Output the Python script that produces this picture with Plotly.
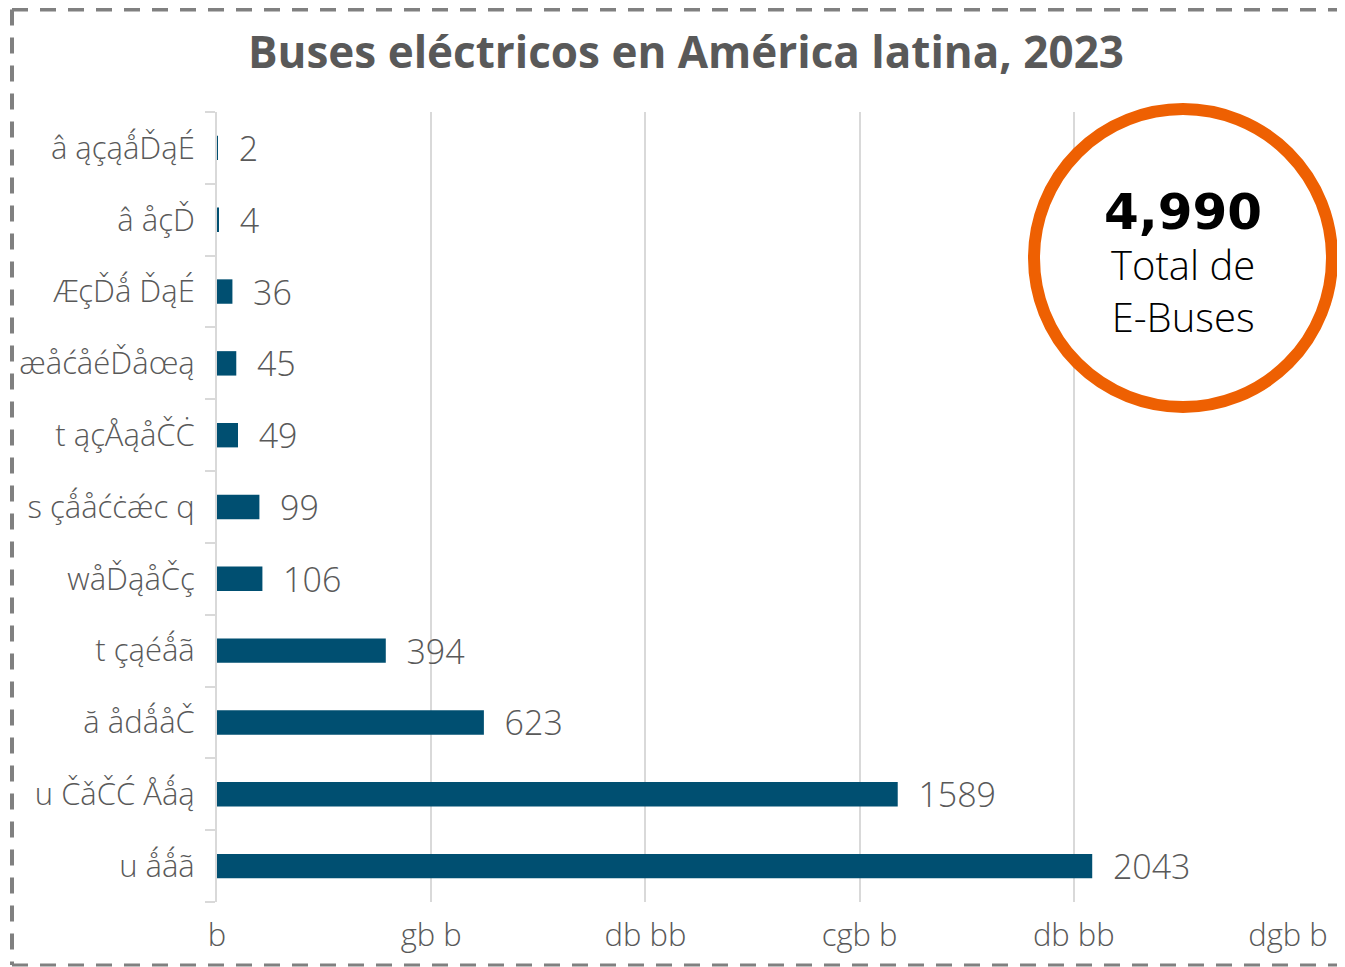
import plotly.graph_objects as go

categories = ["â ąçąǻĎąÉ", "â åçĎ", "ÆçĎǻ ĎąÉ", "æåćåéĎåœą", "t ąçÅąåČĊ",
              "s çǻåćċǽc q", "wåĎąåČç", "t çąéǻã", "ă ådǻåČ", "u ČǎČĆ Åǻą", "u ǻǻã"]
values = [2, 4, 36, 45, 49, 99, 106, 394, 623, 1589, 2043]
tick_vals = [0, 500, 1000, 1500, 2000, 2500]
tick_text = ["b", "gb b", "db bb", "cgb b", "db bb", "dgb b"]
title_text = "Buses eléctricos en América latina, 2023"
total_value = "4,990"
total_label = "Total de<br>E-Buses"

OFF = 8  # page body margin
W, H = 1345 - OFF, 967 - OFF
L, R, T, B = 217 - OFF, 1345 - OFF - 1288 + OFF, 112 - OFF, 967 - 902
pw, ph = W - L - R, H - T - B

def px(x):
    return (x - OFF - L) / pw

def py(y):
    return (H - B - (y - OFF)) / ph

FONT = "Open Sans"
GRAY = "#595959"

fig = go.Figure(go.Bar(
    y=categories, x=values, orientation="h",
    marker=dict(color="#004F71", line=dict(width=0)),
    width=0.34,
    text=["  " + str(v) for v in values],
    textposition="outside", cliponaxis=False, constraintext="none",
    textfont=dict(family=FONT, size=34, color=GRAY, weight=300),
    hoverinfo="skip",
))

fig.update_layout(
    width=W, height=H,
    margin=dict(l=L, r=R, t=T, b=B, autoexpand=False),
    paper_bgcolor="white", plot_bgcolor="white",
    showlegend=False,
    title=dict(text=title_text, x=(686 - OFF) / W, xanchor="center", y=1 - (53 - OFF) / H, yanchor="middle",
               font=dict(family=FONT, size=44, color=GRAY, weight=700)),
    xaxis=dict(range=[0, 2500], tickvals=tick_vals, ticktext=tick_text,
               showgrid=True, gridcolor="#D9D9D9", gridwidth=2,
               zeroline=False, showline=False, ticks="", automargin=False,
               tickfont=dict(family=FONT, size=31, color=GRAY, weight=300),
               ticklabelstandoff=12,
               fixedrange=True),
    yaxis=dict(categoryorder="array", categoryarray=categories[::-1], automargin=False,
               showgrid=False, showline=True, linecolor="#D9D9D9", linewidth=2,
               ticks="outside", tickson="boundaries", ticklen=10, tickcolor="#D9D9D9", tickwidth=2,
               tickfont=dict(family=FONT, size=31, color=GRAY, weight=300),
               ticklabelstandoff=14,
               fixedrange=True),
)

# dashed frame: top, left, bottom (right side lies outside the picture)
frame = [(12, 9.5, 1337, 9.5, 4), (12, 9.5, 12, 965, 4), (12, 965, 1337, 965, 3)]
for (x0, y0, x1, y1, w) in frame:
    fig.add_shape(type="line", xref="paper", yref="paper",
                  x0=px(x0), x1=px(x1), y0=py(y0), y1=py(y1),
                  line=dict(color="#808080", width=w, dash="16px,12px"), layer="above")

fig.add_shape(type="circle", xref="paper", yref="paper",
              x0=px(1183 - 149), x1=px(1183 + 149), y0=py(258 + 149), y1=py(258 - 149),
              line=dict(color="#EE6002", width=12), fillcolor="white", layer="above")

fig.add_annotation(text="<b>" + total_value + "</b>", xref="paper", yref="paper",
                   x=px(1183), y=py(212), xanchor="center", yanchor="middle", showarrow=False,
                   font=dict(family="DejaVu Sans", size=50, color="black"))
fig.add_annotation(text=total_label, xref="paper", yref="paper",
                   x=px(1183), y=py(290), xanchor="center", yanchor="middle", showarrow=False,
                   font=dict(family=FONT, size=40, color="black", weight=300))

fig.write_html("out.html")
